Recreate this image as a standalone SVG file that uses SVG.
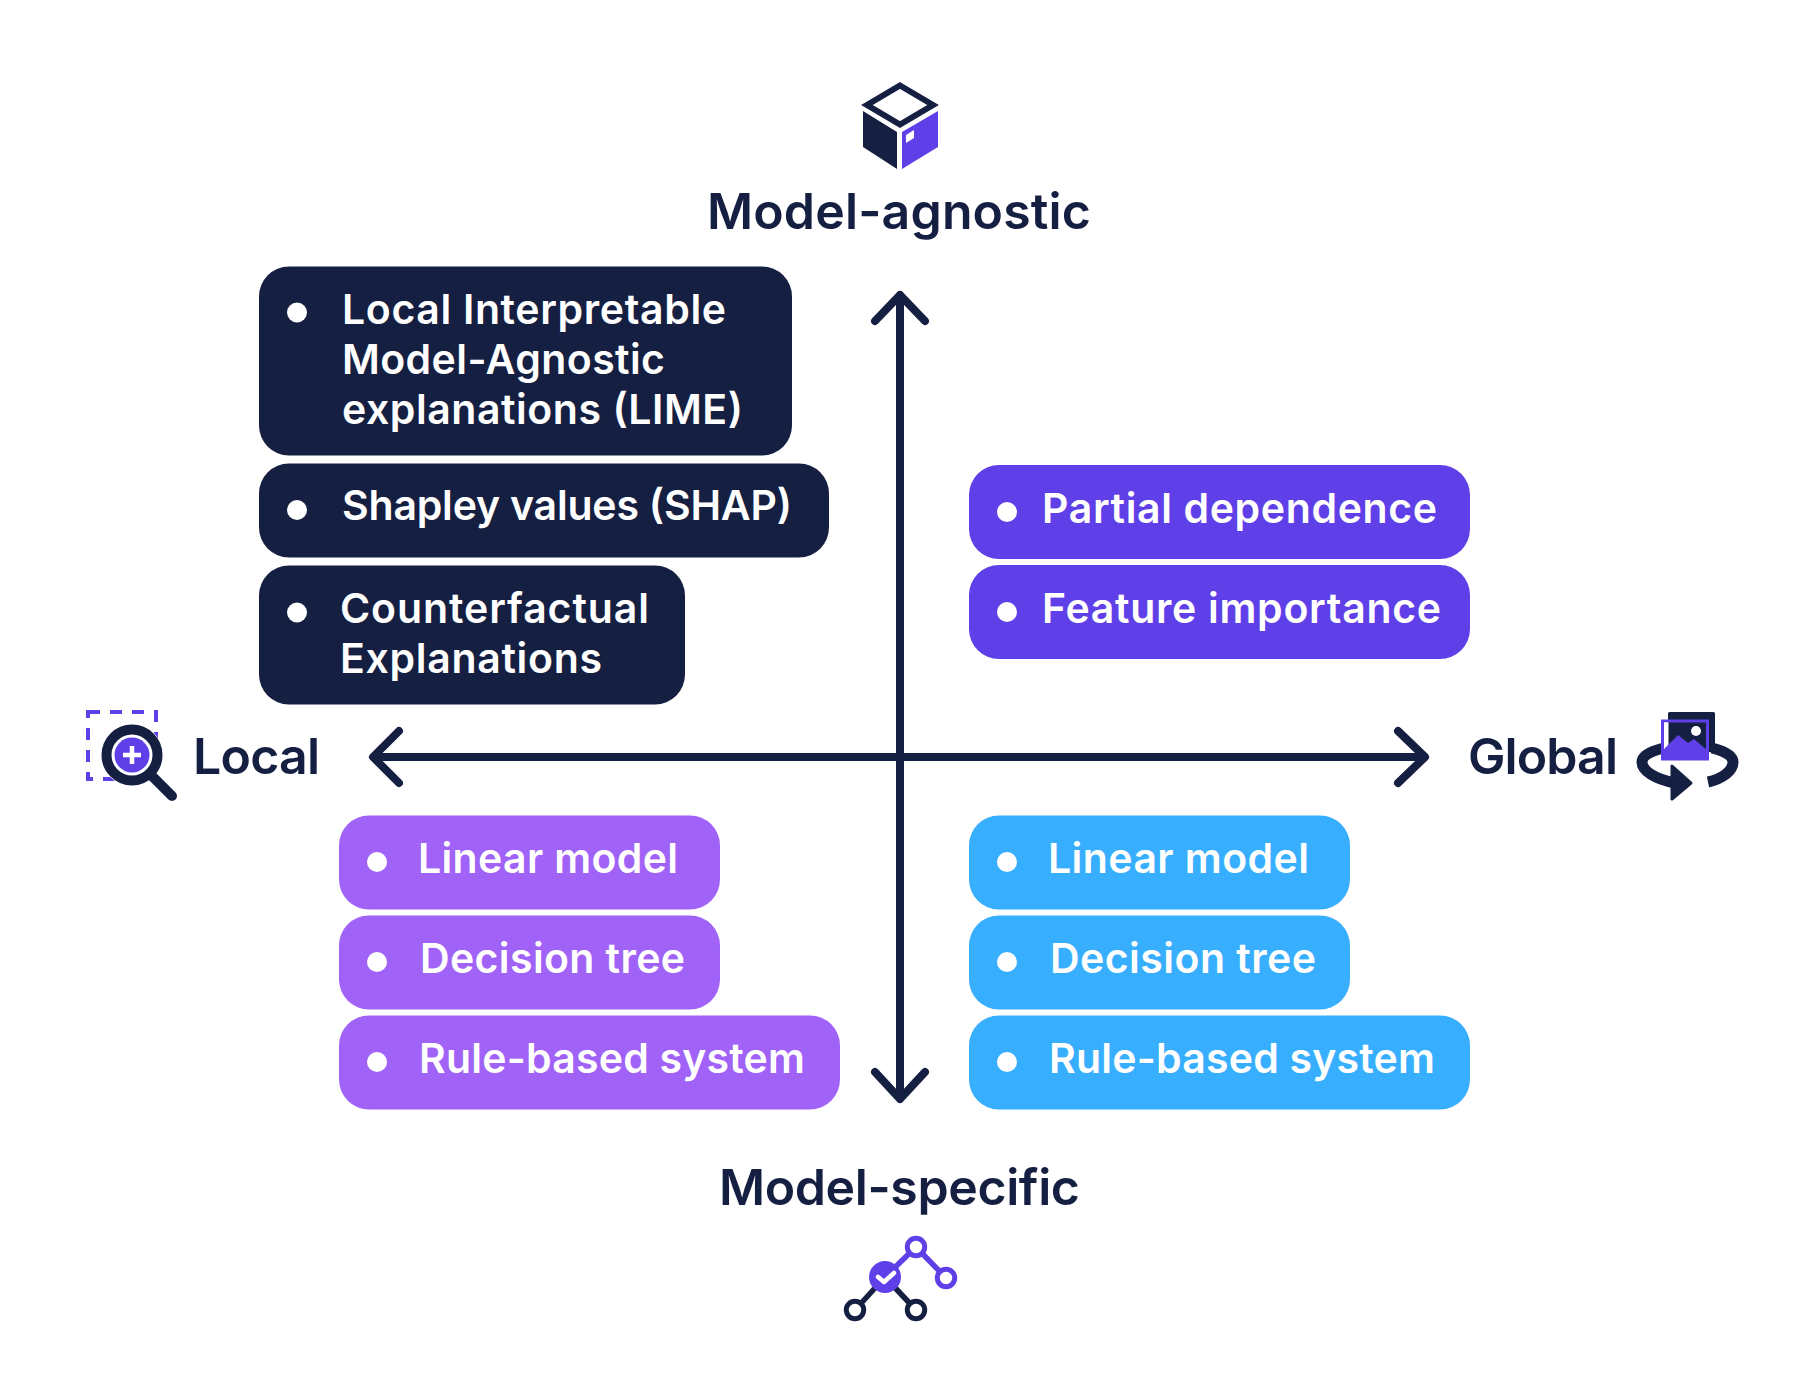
<svg xmlns="http://www.w3.org/2000/svg" width="1800" height="1400" viewBox="0 0 1800 1400">
<style>
text{font-family:Inter,"Liberation Sans",sans-serif;font-weight:600}
.t{font-size:41px;fill:#fff}
.h{font-size:50px;fill:#151f42}
.dark{fill:#151f42}.ind{fill:#5f40e8}.pur{fill:#a162f7}.blu{fill:#38aeff}
.b{fill:#fff}
.ax{fill:none;stroke:#151f42;stroke-width:8;stroke-linecap:round;stroke-linejoin:round}
</style>
<rect width="1800" height="1400" fill="#fff"/>
<g id="connectors">
<path class="ax" d="M900 295V1098M875 321L900 295L925 321M875 1072L900 1099L925 1072"/>
<path class="ax" d="M374 757H1424M399 731L373 757L399 783M1398 731L1425 757L1398 783"/>
</g>
<g id="node-lime"><rect class="dark" x="259" y="266.500" width="533" height="189" rx="30"/><circle class="b" cx="297" cy="312.500" r="10"/>
<text class="t" x="342" y="324" textLength="384">Local Interpretable</text><text class="t" x="342" y="374" textLength="323">Model-Agnostic</text><text class="t" x="342" y="424" textLength="401">explanations (LIME)</text></g>
<g id="node-shap"><rect class="dark" x="259" y="463.500" width="570" height="94" rx="30"/><circle class="b" cx="297" cy="510" r="10"/><text class="t" x="342" y="520" textLength="450">Shapley values (SHAP)</text></g>
<g id="node-counterfactual"><rect class="dark" x="259" y="565.500" width="426" height="139" rx="30"/><circle class="b" cx="297" cy="612.500" r="10"/><text class="t" x="340" y="623" textLength="309">Counterfactual</text><text class="t" x="340" y="673" textLength="262">Explanations</text></g>
<g id="node-partial"><rect class="ind" x="969" y="465" width="501" height="94" rx="30"/><circle class="b" cx="1007" cy="512" r="10"/><text class="t" x="1042" y="523" textLength="395">Partial dependence</text></g>
<g id="node-feature"><rect class="ind" x="969" y="565" width="501" height="94" rx="30"/><circle class="b" cx="1007" cy="612" r="10"/><text class="t" x="1042" y="623" textLength="399">Feature importance</text></g>
<g id="node-linear-left"><rect class="pur" x="339" y="815.500" width="381" height="94" rx="30"/><circle class="b" cx="377" cy="862" r="10"/><text class="t" x="418" y="873" textLength="260">Linear model</text></g>
<g id="node-tree-left"><rect class="pur" x="339" y="915.500" width="381" height="94" rx="30"/><circle class="b" cx="377" cy="962" r="10"/><text class="t" x="420" y="973" textLength="265">Decision tree</text></g>
<g id="node-rule-left"><rect class="pur" x="339" y="1015.500" width="501" height="94" rx="30"/><circle class="b" cx="377" cy="1062" r="10"/><text class="t" x="419" y="1073" textLength="386">Rule-based system</text></g>
<g id="node-linear-right"><rect class="blu" x="969" y="815.500" width="381" height="94" rx="30"/><circle class="b" cx="1007" cy="862" r="10"/><text class="t" x="1048" y="873" textLength="261">Linear model</text></g>
<g id="node-tree-right"><rect class="blu" x="969" y="915.500" width="381" height="94" rx="30"/><circle class="b" cx="1007" cy="962" r="10"/><text class="t" x="1050" y="973" textLength="266">Decision tree</text></g>
<g id="node-rule-right"><rect class="blu" x="969" y="1015.500" width="501" height="94" rx="30"/><circle class="b" cx="1007" cy="1062" r="10"/><text class="t" x="1049" y="1073" textLength="386">Rule-based system</text></g>
<g id="label-agnostic">
<path d="M900 85.500L933 105L900 124.500L867 105Z" fill="none" stroke="#151f42" stroke-width="6"/>
<path class="dark" d="M863 111L897 132V169L863 147Z"/>
<path class="ind" d="M938 111L902 132V169L938 147Z"/>
<path class="b" d="M906 135L914 130V138L906 143Z"/>
<text class="h" x="707" y="229" textLength="384">Model-agnostic</text></g>
<g id="label-specific">
<path d="M885 1277L855 1310M885 1277L916 1310" stroke="#151f42" stroke-width="5.500" fill="none"/>
<circle cx="855" cy="1310" r="8.700" fill="#fff" stroke="#151f42" stroke-width="5"/>
<circle cx="916" cy="1310" r="8.700" fill="#fff" stroke="#151f42" stroke-width="5"/>
<path d="M885 1277L916 1247L946 1278" stroke="#5f40e8" stroke-width="5.500" fill="none"/>
<circle cx="916" cy="1247" r="8.700" fill="#fff" stroke="#5f40e8" stroke-width="5"/>
<circle cx="946" cy="1278" r="8.700" fill="#fff" stroke="#5f40e8" stroke-width="5"/>
<circle class="ind" cx="885" cy="1277" r="16"/>
<path d="M878 1277L884 1282L894 1273" fill="none" stroke="#fff" stroke-width="4.500" stroke-linecap="round" stroke-linejoin="round"/>
<text class="h" x="719" y="1204.500" textLength="361">Model-specific</text></g>
<g id="label-local">
<rect x="88" y="712" width="68" height="67" fill="none" stroke="#5f40e8" stroke-width="4" stroke-dasharray="12 10"/>
<circle cx="132" cy="755" r="31" fill="#fff"/>
<circle cx="132" cy="755" r="25.500" fill="none" stroke="#151f42" stroke-width="10"/>
<circle class="ind" cx="132" cy="755" r="17.500"/>
<path d="M132 746V764M123 755H141" stroke="#fff" stroke-width="4.500"/>
<path d="M152 776L172 796" stroke="#151f42" stroke-width="10" stroke-linecap="round"/>
<text class="h" x="193" y="774" textLength="127">Local</text></g>
<g id="label-global">
<path d="M1664 748C1647 752 1642 757 1642 762C1642 771 1655 779 1675 783" fill="none" stroke="#151f42" stroke-width="11"/>
<path d="M1712 748C1728 752 1733 757 1733 762C1733 771 1722 779 1708 782" fill="none" stroke="#151f42" stroke-width="11"/>
<path class="dark" d="M1672 766L1691 783L1672 799Z" stroke="#151f42" stroke-width="3" stroke-linejoin="round"/>
<rect class="dark" x="1668" y="712" width="47" height="40" rx="1.500"/>
<rect x="1662.500" y="721" width="45" height="38" fill="none" stroke="#5f40e8" stroke-width="3"/>
<rect x="1664" y="722.500" width="4.500" height="35" fill="#fff"/>
<path class="ind" d="M1664 749L1678 735L1688 743L1694 739L1707 750V758H1664Z"/>
<circle class="b" cx="1696" cy="731" r="5"/>
<text class="h" x="1468" y="774" textLength="150">Global</text></g>
</svg>
